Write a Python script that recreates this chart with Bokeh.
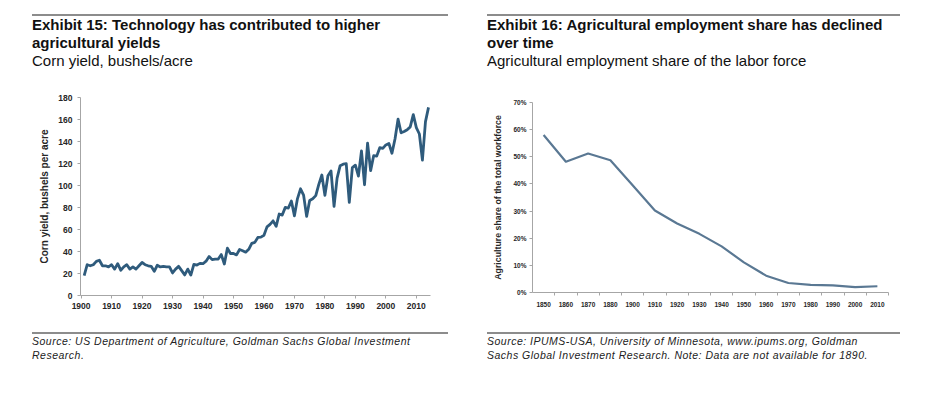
from bokeh.plotting import figure
from bokeh.layouts import row, column
from bokeh.models import Div, Spacer, FixedTicker, NumeralTickFormatter
from bokeh.embed import file_html
from bokeh.resources import INLINE

# ---------------- data ----------------
corn_years = list(range(1901, 2015))
corn_yield = [
    18, 28, 27, 28, 31, 32, 27, 27, 26, 28,                 # 1901-1910
    24, 29, 23, 26, 28, 24, 26, 24, 27, 30,                 # 1911-1920
    28, 27, 26.5, 22, 27.5, 26, 26.5, 26, 26, 20.5,         # 1921-1930
    24, 26.5, 22.6, 18.7, 24, 18.6, 28.2, 27.7, 29.2, 28.9, # 1931-1940
    31.2, 35.4, 32.6, 33.0, 33.1, 37.2, 28.6, 43.0, 38.2, 38.2,
    36.9, 41.8, 40.7, 39.4, 42.0, 47.4, 48.3, 52.8, 53.1, 54.7,
    62.4, 64.7, 67.9, 62.9, 74.1, 73.1, 80.1, 79.5, 85.9, 72.4,
    88.1, 97.0, 91.3, 71.9, 86.4, 88.0, 90.8, 101.0, 109.5, 91.0,
    108.9, 113.2, 81.1, 106.7, 118.0, 119.4, 119.8, 84.6, 116.3, 118.5,
    108.6, 131.5, 100.7, 138.6, 113.5, 127.1, 126.7, 134.4, 133.8, 136.9,
    138.2, 129.3, 142.2, 160.3, 147.9, 149.1, 150.7, 153.3, 164.4, 152.6,
    146.8, 123.1, 158.1, 171.0,                             # 2011-2014
]
corn_xticks = [1900, 1910, 1920, 1930, 1940, 1950, 1960, 1970, 1980, 1990, 2000, 2010]
corn_yticks = [0, 20, 40, 60, 80, 100, 120, 140, 160, 180]

emp_labels = ["1850", "1860", "1870", "1880", "1900", "1910", "1920", "1930",
              "1940", "1950", "1960", "1970", "1980", "1990", "2000", "2010"]
emp_share = [0.58, 0.482, 0.512, 0.487, 0.395, 0.302, 0.254, 0.216,
             0.17, 0.111, 0.062, 0.035, 0.028, 0.026, 0.02, 0.023]
emp_yticks = [0, 0.1, 0.2, 0.3, 0.4, 0.5, 0.6, 0.7]

FONT = "'Liberation Sans', Arial, Helvetica, sans-serif"
AXIS_C = "#a6a6a6"
TXT_C = "#262626"


def title_div(width, l1, l2, sub):
    html = (
        f'<div style="width:{width}px;margin-top:6px;border-top:2px solid #8c8c8c;'
        f'font-family:{FONT};color:#111;">'
        f'<div style="font-size:15px;font-weight:bold;line-height:18px;">{l1}<br>{l2}</div>'
        f'<div style="font-size:15px;line-height:18px;">{sub}</div>'
        f'</div>'
    )
    return Div(text=html, width=width, height=72, margin=0)


def source_div(width, text):
    html = (
        f'<div style="width:{width}px;margin-top:12px;border-top:2px solid #8c8c8c;'
        f'font-family:{FONT};color:#222;font-size:10.5px;font-style:italic;'
        f'letter-spacing:0.5px;line-height:14px;">{text}</div>'
    )
    return Div(text=html, width=width, height=52, margin=0)


def style_axes(p, tick_size, label_size):
    for ax in (p.xaxis[0], p.yaxis[0]):
        ax.axis_line_color = AXIS_C
        ax.major_tick_line_color = AXIS_C
        ax.minor_tick_line_color = None
        ax.major_tick_in = 0
        ax.major_tick_out = 3
        ax.major_label_text_font = "Liberation Sans"
        ax.major_label_text_font_style = "bold"
        ax.major_label_text_font_size = tick_size
        ax.major_label_text_color = TXT_C
        ax.axis_label_text_font = "Liberation Sans"
        ax.axis_label_text_font_style = "bold"
        ax.axis_label_text_font_size = label_size
        ax.axis_label_text_color = TXT_C
    p.xgrid.visible = False
    p.ygrid.visible = False
    p.outline_line_color = None


# ---------------- left chart ----------------
pL = figure(width=416, height=240, output_backend="svg", toolbar_location=None,
            x_range=(1899.8, 2014.65), y_range=(0, 180),
            min_border_left=48, min_border_right=18, min_border_top=17,
            min_border_bottom=25, margin=0)
pL.line(corn_years, corn_yield, line_color="#2f5b7c", line_width=2.8, line_join="round")
pL.xaxis.ticker = FixedTicker(ticks=corn_xticks)
pL.yaxis.ticker = FixedTicker(ticks=corn_yticks)
pL.yaxis.axis_label = "Corn yield, bushels per acre"
style_axes(pL, "8.5px", "10px")
pL.xaxis.major_label_standoff = 4
pL.yaxis.major_label_standoff = 5
pL.yaxis.axis_label_standoff = 5

# ---------------- right chart ----------------
idx = list(range(len(emp_labels)))
pR = figure(width=413, height=240, output_backend="svg", toolbar_location=None,
            x_range=(-0.5, len(emp_labels) - 0.5), y_range=(0, 0.7),
            min_border_left=45, min_border_right=12, min_border_top=22,
            min_border_bottom=28, margin=0)
pR.line(idx, emp_share, line_color="#5a7893", line_width=2.2, line_join="round")
pR.xaxis.ticker = FixedTicker(ticks=idx, minor_ticks=[i + 0.5 for i in idx])
pR.xaxis.major_label_overrides = {i: lab for i, lab in zip(idx, emp_labels)}
pR.yaxis.ticker = FixedTicker(ticks=emp_yticks)
pR.yaxis.formatter = NumeralTickFormatter(format="0%")
pR.yaxis.axis_label = "Agriculture share of the total workforce"
style_axes(pR, "6.5px", "8.8px")
pR.xaxis.major_tick_out = 0
pR.xaxis.minor_tick_line_color = AXIS_C
pR.xaxis.minor_tick_out = 3
pR.xaxis.minor_tick_in = 0
pR.xaxis.major_label_standoff = 6
pR.yaxis.major_label_standoff = 3
pR.yaxis.axis_label_standoff = 7

# ---------------- layout ----------------
left_col = column(
    title_div(416, "Exhibit 15: Technology has contributed to higher",
              "agricultural yields", "Corn yield, bushels/acre"),
    pL,
    source_div(416, "Source: US Department of Agriculture, Goldman Sachs Global Investment<br>Research."),
    spacing=0, margin=0,
)
right_col = column(
    title_div(413, "Exhibit 16: Agricultural employment share has declined",
              "over time", "Agricultural employment share of the labor force"),
    pR,
    source_div(413, "Source: IPUMS-USA, University of Minnesota, www.ipums.org, Goldman<br>"
                    "Sachs Global Investment Research. Note: Data are not available for 1890."),
    spacing=0, margin=0,
)
charts = row(Spacer(width=32, height=10, margin=0), left_col,
             Spacer(width=39, height=10, margin=0), right_col,
             spacing=0, margin=0)
layout = column(Spacer(width=10, height=8, margin=0), charts, spacing=0, margin=0)

open("out.html", "w").write(file_html(layout, INLINE))
